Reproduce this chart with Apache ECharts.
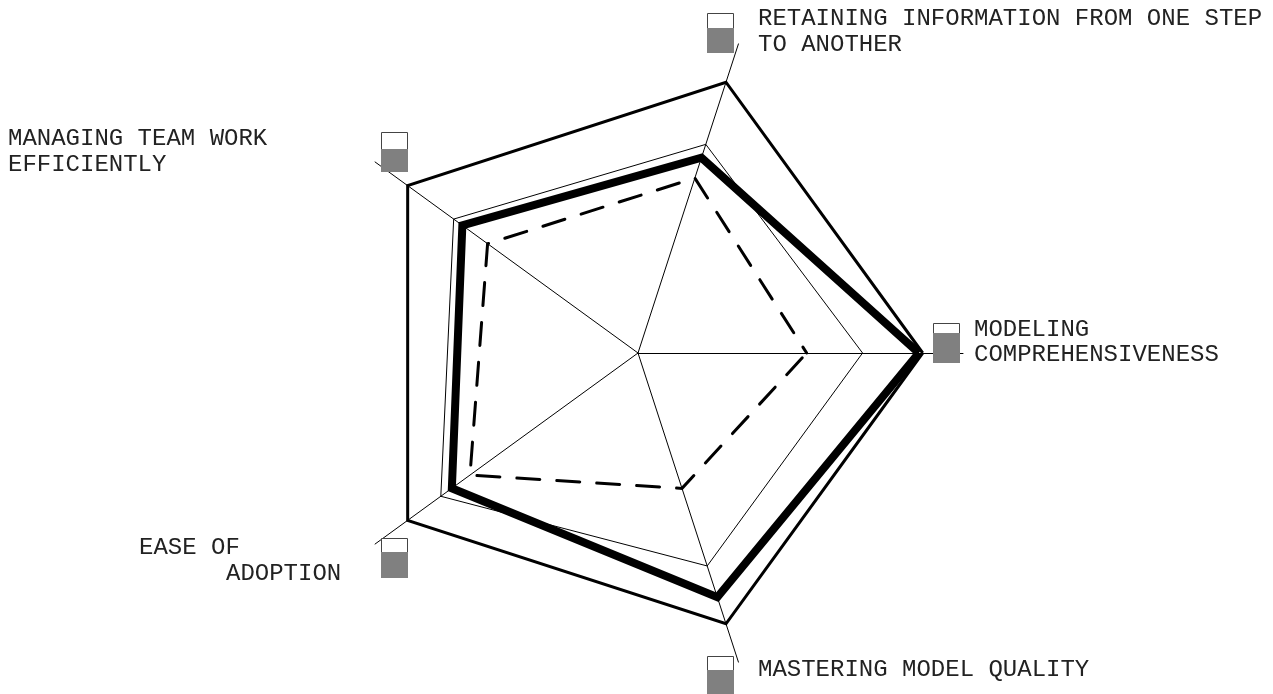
<!DOCTYPE html>
<html>
<head>
<meta charset="utf-8">
<title>Radar</title>
<script src="https://cdn.jsdelivr.net/npm/echarts@6/dist/echarts.min.js"></script>
<style>
  html, body { margin: 0; padding: 0; background: #fff; }
  #radar { width: 1273px; height: 694px; }
</style>
</head>
<body>
<div id="radar"></div>
<script>
// order follows the radar, counterclockwise from the right
const categories = [
  "MODELING COMPREHENSIVENESS",
  "RETAINING INFORMATION FROM ONE STEP TO ANOTHER",
  "MANAGING TEAM WORK EFFICIENTLY",
  "EASE OF ADOPTION",
  "MASTERING MODEL QUALITY",
];
const outerValues = [87.6, 87.6, 87.6, 87.6, 87.6];
const thinValues = [69.1, 67.5, 70.1, 75, 68.9];
const thickValues = [86.4, 63.2, 66.8, 70.8, 79];
const dashedValues = [51.9, 56.6, 57.2, 63.9, 43.8];
// share of each small gauge that is filled
const gaugeLevels = [0.74, 0.62, 0.56, 0.64, 0.63];

const labelFont = '24px "Liberation Mono", monospace';
const labelLines = [
  [["MODELING", 974, 330], ["COMPREHENSIVENESS", 974, 355]],
  [["RETAINING INFORMATION FROM ONE STEP", 758, 19], ["TO ANOTHER", 758, 45]],
  [["MANAGING TEAM WORK", 8, 139], ["EFFICIENTLY", 8, 165]],
  [["EASE OF", 139, 548], ["ADOPTION", 226, 574]],
  [["MASTERING MODEL QUALITY", 758, 670]],
];
const gaugeSpots = [[933, 323], [707, 13], [381, 132], [381, 538], [707, 656]];
const gaugeW = 27;
const gaugeH = 39;

const graphics = [];
labelLines.forEach((lines) => {
  lines.forEach((l) => {
    graphics.push({
      type: "text",
      x: l[1],
      y: l[2],
      z: 10,
      style: { text: l[0], font: labelFont, fill: "#222", textVerticalAlign: "middle" },
    });
  });
});
gaugeSpots.forEach((p, i) => {
  const filled = Math.round(gaugeH * gaugeLevels[i]);
  graphics.push({
    type: "rect",
    z: 10,
    shape: { x: p[0] + 0.5, y: p[1] + 0.5, width: gaugeW - 1, height: gaugeH },
    style: { fill: "#fff", stroke: "#444", lineWidth: 1 },
  });
  graphics.push({
    type: "rect",
    z: 11,
    shape: { x: p[0], y: p[1] + gaugeH - filled, width: gaugeW, height: filled + 1 },
    style: { fill: "#808080" },
  });
});

function radarLine(name, values, width, type, cap, offset) {
  return {
    name: name,
    value: values,
    symbol: "none",
    lineStyle: {
      color: "#000",
      width: width,
      type: type || "solid",
      cap: cap || "butt",
      dashOffset: offset || 0,
      join: "miter",
      miterLimit: 10,
      opacity: 1,
    },
  };
}

const myChart = echarts.init(document.getElementById("radar"));
myChart.setOption({
  animation: false,
  backgroundColor: "#fff",
  radar: {
    center: [638, 353],
    radius: 325,
    startAngle: 0,
    shape: "polygon",
    axisName: { show: false },
    indicator: categories.map((c) => ({ name: c, min: 0, max: 100 })),
    axisLine: { lineStyle: { color: "#000", width: 1 } },
    axisTick: { show: false },
    axisLabel: { show: false },
    splitLine: { show: false },
    splitArea: { show: false },
  },
  series: [{
    type: "radar",
    data: [
      radarLine("thin", thinValues, 1),
      radarLine("outer", outerValues, 3),
      radarLine("dashed", dashedValues, 3, [23, 17], "round", 16),
      radarLine("thick", thickValues, 8),
    ],
  }],
  graphic: graphics,
});
</script>
</body>
</html>
